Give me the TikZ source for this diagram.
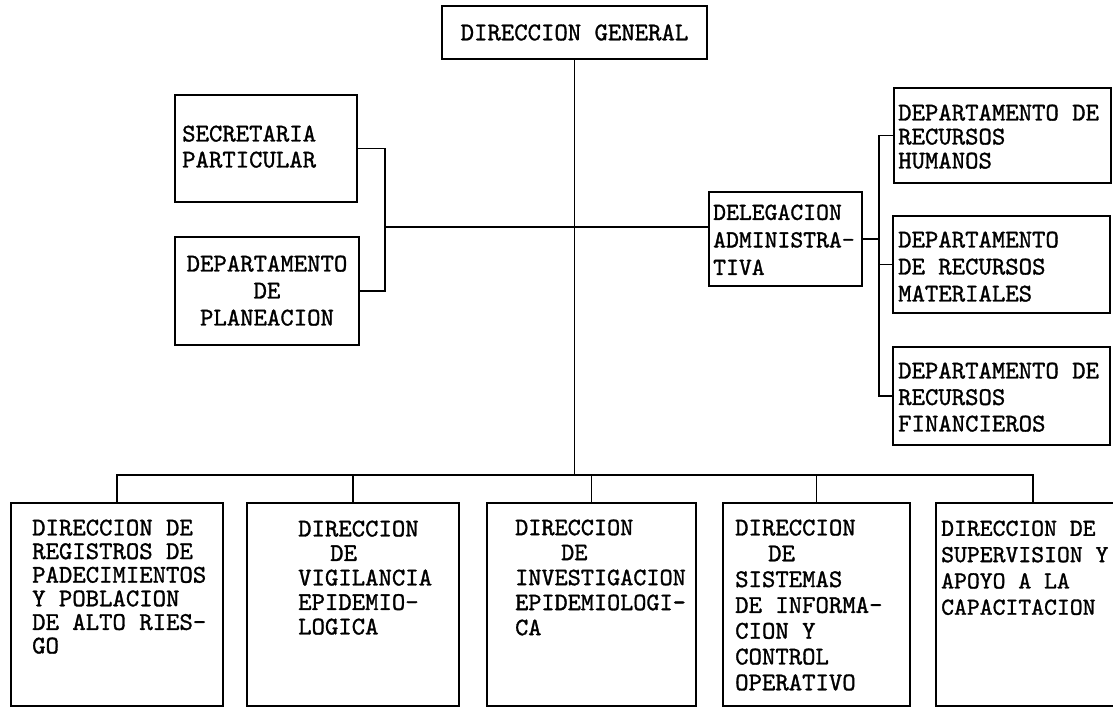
\documentclass[tikz,border=0pt]{standalone}
\usepackage{fontspec}
\newfontfamily\tw{lmmono10-regular}[Extension=.otf,FakeBold=1.2]
\tikzset{
  box/.style={draw, line width=1.7pt, inner sep=0pt, rectangle},
  txt/.style={inner sep=0pt, anchor=north west, align=left, font=\tw\fontsize{25.5}{#1}\selectfont},
  txt/.default=25,
  link/.style={line width=1.7pt},
}
\begin{document}
\begin{tikzpicture}[x=1pt,y=-1pt]
\clip (0,0) rectangle (1113,708);
% boxes
\node[box, minimum width=265pt, minimum height=53pt] (dg) at (574.5,32.5) {};
\node[box, minimum width=182pt, minimum height=107pt] (sec) at (266,148.5) {};
\node[box, minimum width=184pt, minimum height=108pt] (pla) at (267,291) {};
\node[box, minimum width=153pt, minimum height=94pt] (del) at (785.5,239) {};
\node[box, minimum width=217pt, minimum height=95pt] (rh) at (1002.5,135.5) {};
\node[box, minimum width=217pt, minimum height=97pt] (mat) at (1001.5,264.5) {};
\node[box, minimum width=217pt, minimum height=98pt] (fin) at (1001.5,396) {};
\node[box, minimum width=212pt, minimum height=203pt] (b1) at (117,604.5) {};
\node[box, minimum width=212pt, minimum height=203pt] (b2) at (353,604.5) {};
\node[box, minimum width=209pt, minimum height=203pt] (b3) at (591.5,604.5) {};
\node[box, minimum width=187pt, minimum height=203pt] (b4) at (816.5,604.5) {};
\node[box, minimum width=194pt, minimum height=203pt] (b5) at (1033,604.5) {};
% texts
\node[txt, anchor=center] (dgt) at (dg.center) {DIRECCION GENERAL};
\node[txt=26] (sect) at (182,125.4) {SECRETARIA\\PARTICULAR};
\node[txt=27, anchor=north, align=center] (plat) at (267,255.4) {DEPARTAMENTO\\DE\\PLANEACION};
\node[txt, font=\tw\fontsize{24.5}{27.5}\selectfont] (delt) at (713,204.4) {DELEGACION\\ADMINISTRA-\\TIVA};
\node[txt=24] (rht) at (898,104.4) {DEPARTAMENTO DE\\RECURSOS\\HUMANOS};
\node[txt=27] (matt) at (898,231.4) {DEPARTAMENTO\\DE RECURSOS\\MATERIALES};
\node[txt=26.5] (fint) at (898,362.4) {DEPARTAMENTO DE\\RECURSOS\\FINANCIEROS};
\node[txt=23.6] (b1t) at (32,519.4) {DIRECCION DE\\REGISTROS DE\\PADECIMIENTOS\\Y POBLACION\\DE ALTO RIES-\\GO};
\node[txt=24.5] (b2t) at (298,520.4) {DIRECCION\\\hspace*{32pt}DE\\VIGILANCIA\\EPIDEMIO-\\LOGICA};
\node[txt, font=\tw\fontsize{25}{25}\selectfont] (b3t) at (515,519.4) {DIRECCION\\\hspace*{46pt}DE\\INVESTIGACION\\EPIDEMIOLOGI-\\CA};
\node[txt=25.8] (b4t) at (735,519.4) {DIRECCION\\\hspace*{33pt}DE\\SISTEMAS\\DE INFORMA-\\CION Y\\CONTROL\\OPERATIVO};
\node[txt, font=\tw\fontsize{24.5}{26.3}\selectfont] (b5t) at (941,520.4) {DIRECCION DE\\SUPERVISION Y\\APOYO A LA\\CAPACITACION};
% connectors
\coordinate (lb) at (385,227);
\coordinate (rb) at (879,238);
\coordinate (bus) at (0,475);
\draw[link] (sec.east) -| (lb |- pla.east) -- (pla.east);
\draw[link] (lb) -- (lb -| del.west);
\draw[link] (del.east) -- (rb |- del.east);
\draw[link] (rh.west) -| (rb |- fin.west) -- (fin.west);
\draw[link] (mat.west) -- (rb |- mat.west);
\draw[link] (dg.south) -- (dg.south |- bus);
\draw[link] (b1.north) -- (b1.north |- bus) -- (b5.north |- bus) -- (b5.north);
\foreach \n in {b2,b3,b4} \draw[link] (\n.north) -- (\n.north |- bus);
\end{tikzpicture}
\end{document}
